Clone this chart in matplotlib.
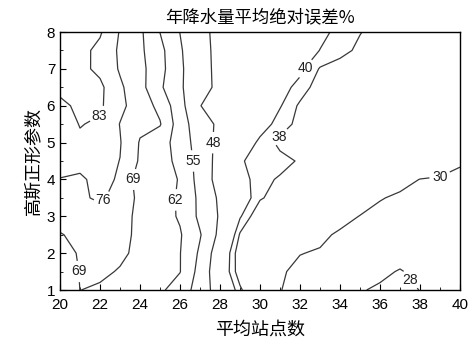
import matplotlib
matplotlib.use('Agg')
import matplotlib.pyplot as plt
from matplotlib.ticker import MultipleLocator
import numpy as np

plt.rcParams['font.family'] = ['Liberation Sans', 'Noto Sans CJK SC']

# grid: columns = mean station count, rows = shape parameter
station_counts = list(range(20, 41))
shape_params = [1.0, 1.5, 2.0, 2.5, 3.0, 3.5, 4.0, 4.5, 5.0, 5.5, 6.0, 6.5, 7.0, 7.5, 8.0]
error_pct = [
  [63.0, 69.05, 68.3, 66.0, 64.5, 63.0, 59.2, 51.5, 44.8, 38.5, 34.3, 30.1, 29.0, 28.7, 28.4, 28.1, 27.8, 27.7, 28.02, 28.3, 28.5],
  [64.5, 69.3, 70.0, 68.6, 66.4, 64.3, 62.2, 52.5, 43.0, 36.5, 34.0, 30.4, 29.2, 29.0, 28.8, 28.6, 28.3, 27.9, 28.4, 28.5, 28.6],
  [66.5, 69.6, 70.5, 70.0, 67.7, 65.0, 62.2, 53.9, 43.5, 36.3, 34.4, 32.2, 30.1, 29.7, 29.4, 29.1, 28.8, 28.6, 28.5, 28.5, 28.5],
  [68.5, 71.0, 71.5, 71.0, 67.5, 65.0, 62.6, 55.5, 46.2, 37.7, 36.0, 34.3, 32.5, 30.7, 29.5, 29.2, 29.0, 28.8, 28.6, 28.4, 28.2],
  [72.5, 72.0, 72.0, 71.0, 67.7, 64.7, 61.3, 53.5, 47.3, 40.3, 36.0, 35.0, 33.8, 32.5, 31.2, 29.9, 29.3, 29.0, 28.8, 28.6, 28.4],
  [74.5, 74.5, 77.5, 72.4, 67.7, 64.7, 61.2, 53.4, 46.8, 42.1, 38.3, 36.8, 35.5, 34.3, 33.0, 31.7, 30.15, 29.6, 29.2, 29.0, 28.8],
  [75.9, 75.0, 78.0, 75.2, 65.3, 64.0, 61.7, 52.1, 45.3, 41.5, 38.5, 37.8, 36.3, 35.0, 33.8, 32.7, 31.7, 30.8, 29.95, 29.8, 29.6],
  [77.1, 78.0, 78.0, 75.9, 68.1, 64.7, 60.2, 52.1, 45.5, 40.2, 39.3, 38.6, 37.8, 36.8, 35.9, 34.9, 34.0, 33.0, 32.1, 31.1, 30.2],
  [78.3, 81.9, 79.0, 76.4, 68.5, 64.7, 59.3, 51.3, 46.2, 42.7, 39.3, 37.5, 36.7, 35.8, 35.0, 34.2, 33.3, 32.5, 31.9, 31.2, 30.6],
  [79.5, 83.3, 82.0, 75.8, 70.5, 69.5, 58.2, 50.9, 46.7, 44.1, 41.5, 38.9, 37.4, 36.5, 35.6, 34.7, 33.9, 33.1, 32.4, 31.7, 31.0],
  [80.8, 85.0, 84.1, 77.6, 72.6, 67.2, 57.3, 48.1, 46.05, 44.1, 42.1, 40.2, 37.6, 36.6, 35.7, 34.9, 34.1, 33.3, 32.6, 31.9, 31.3],
  [85.5, 86.5, 84.5, 77.1, 71.4, 63.1, 56.0, 49.8, 46.8, 45.0, 43.3, 41.0, 39.2, 36.8, 36.0, 35.2, 34.4, 33.6, 32.9, 32.3, 31.7],
  [87.0, 84.8, 81.4, 75.3, 71.1, 64.2, 56.2, 49.6, 46.8, 45.3, 43.7, 42.2, 40.6, 37.8, 37.0, 36.2, 35.4, 34.6, 33.8, 33.0, 32.1],
  [87.5, 85.0, 81.25, 74.9, 70.35, 63.9, 55.8, 49.3, 46.9, 45.5, 44.1, 42.8, 41.4, 39.95, 38.75, 37.5, 36.6, 35.7, 34.7, 33.8, 32.9],
  [88.0, 85.5, 83.8, 75.5, 70.3, 61.9, 54.9, 49.0, 46.95, 45.7, 44.4, 43.2, 41.9, 40.6, 39.4, 38.1, 37.1, 36.1, 35.2, 34.3, 33.5],
]
levels = [28, 30, 38, 40, 48, 55, 62, 69, 76, 83]
label_spots = [(22.0, 5.7), (22.2, 3.4), (23.65, 4.0), (20.9, 1.5), (26.15, 3.45),
               (26.6, 4.5), (27.5, 5.0), (32.4, 6.95), (31.1, 5.1), (39.0, 4.08), (37.8, 1.4)]

fig = plt.figure(figsize=(4.74, 3.46), dpi=100)
ax = fig.add_axes([0.1266, 0.1618, 0.8439, 0.7457])

cs = ax.contour(station_counts, shape_params, np.array(error_pct), levels=levels,
                colors='#383838', linewidths=0.9)
txts = ax.clabel(cs, fmt='%d', fontsize=10, manual=label_spots, inline=True, inline_spacing=3)
# labels stand upright in the original
for t in txts:
  t.set_rotation(0)
  t.set_color('#222222')

ax.set_xlim(20, 40)
ax.set_ylim(1, 8)
ax.set_xticks(range(20, 41, 2))
ax.set_yticks(range(1, 9))
ax.xaxis.set_minor_locator(MultipleLocator(1))
ax.yaxis.set_minor_locator(MultipleLocator(0.5))
ax.tick_params(which='both', direction='in', top=False, right=False, labelsize=11)
ax.tick_params(which='major', length=4)
ax.tick_params(which='minor', length=2.5)
ax.tick_params(axis='x', pad=6)
for sp in ax.spines.values():
  sp.set_linewidth(1.0)

cjk = ['Noto Sans CJK SC', 'DejaVu Sans']
ax.set_title('年降水量平均绝对误差%', fontsize=12.5, family=cjk, pad=7)
ax.set_xlabel('平均站点数', fontsize=13, family=cjk, labelpad=6)
ax.set_ylabel('高斯正形参数', fontsize=13, family=cjk, labelpad=3)

fig.savefig('out.png', dpi=100)
